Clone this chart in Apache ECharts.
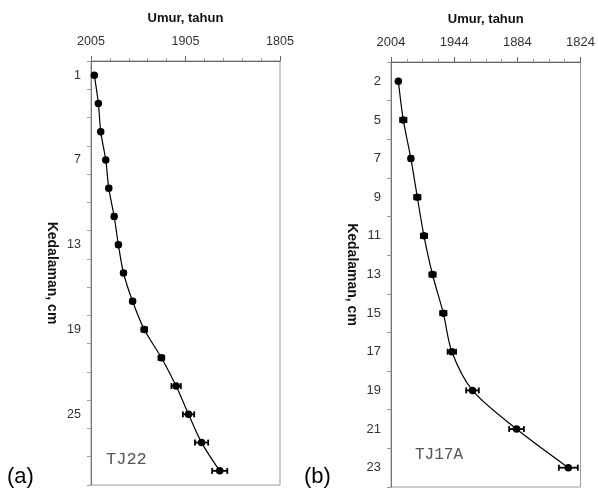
<!DOCTYPE html>
<html>
<head>
<meta charset="utf-8">
<script src="https://cdn.jsdelivr.net/npm/echarts@6/dist/echarts.min.js"></script>
<style>
  html, body { margin: 0; padding: 0; background: #fff; }
  #chart { width: 598px; height: 496px; }
</style>
</head>
<body>
<div id="chart"></div>
<script>
// panel (a) TJ22
var depthA = ['1', '3', '5', '7', '9', '11', '13', '15', '17', '19', '21', '23', '25', '27', '29'];
var yearA = [2001.5, 1997.2, 1994.7, 1989.4, 1986.2, 1980.5, 1976, 1970.6, 1961, 1948.6, 1930.5, 1914.9, 1901.8, 1888, 1868.8];
var errA = [0, 1, 1, 2, 2, 2, 2, 2, 2, 3, 3, 5, 6, 7, 8];
// panel (b) TJ17A
var depthB = ['2', '5', '7', '9', '11', '13', '15', '17', '19', '21', '23'];
var yearB = [1997, 1992.3, 1985.1, 1979, 1972.7, 1964.6, 1954.3, 1946.2, 1926.6, 1884.8, 1835.6];
var errB = [0, 3, 2, 3, 3, 3, 3, 4, 6, 7, 9];

var xName = 'Umur, tahun';
var yName = 'Kedalaman, cm';

window.onload = function () {
  var chart = echarts.init(document.getElementById('chart'));

  function errData(years, errs) {
    var out = [];
    for (var i = 0; i < years.length; i++) {
      out.push([years[i] - errs[i], i, years[i] + errs[i]]);
    }
    return out;
  }

  function renderErr(params, api) {
    var lo = api.coord([api.value(0), api.value(1)]);
    var hi = api.coord([api.value(2), api.value(1)]);
    var h = 3;
    var style = { stroke: '#000', lineWidth: 1.8 };
    return {
      type: 'group',
      children: [
        { type: 'line', shape: { x1: lo[0], y1: lo[1], x2: hi[0], y2: hi[1] }, style: style },
        { type: 'line', shape: { x1: lo[0], y1: lo[1] - h, x2: lo[0], y2: lo[1] + h }, style: style },
        { type: 'line', shape: { x1: hi[0], y1: hi[1] - h, x2: hi[0], y2: hi[1] + h }, style: style }
      ]
    };
  }

  function xAxis(idx, min, max, interval, minorSplit, fontSize) {
    return {
      type: 'value',
      gridIndex: idx,
      position: 'top',
      inverse: true,
      min: min,
      max: max,
      interval: interval,
      name: xName,
      nameLocation: 'middle',
      nameGap: 36,
      nameTextStyle: { fontFamily: 'Liberation Sans', fontWeight: 'bold', fontSize: 13, color: '#111' },
      axisLine: { show: true, lineStyle: { color: '#666', width: 1 } },
      axisTick: { show: true, length: 5, lineStyle: { color: '#666' } },
      minorTick: { show: true, splitNumber: minorSplit, length: 3, lineStyle: { color: '#999' } },
      axisLabel: {
        margin: 13, fontFamily: 'Liberation Sans', fontSize: fontSize, color: '#333',
        formatter: function (v) { return String(v); }
      },
      splitLine: { show: false }
    };
  }

  function yAxis(idx, cats, labelInterval, fontSize) {
    return {
      type: 'category',
      gridIndex: idx,
      inverse: true,
      data: cats,
      name: yName,
      nameLocation: 'middle',
      nameRotate: -90,
      nameGap: 32,
      nameTextStyle: { fontFamily: 'Liberation Sans', fontWeight: 'bold', fontSize: 14, color: '#111' },
      axisLine: { show: true, lineStyle: { color: '#777', width: 1 } },
      axisTick: { show: true, interval: 0, length: 4, lineStyle: { color: '#999' } },
      axisLabel: { interval: labelInterval, margin: 10, fontFamily: 'Liberation Sans', fontSize: fontSize, color: '#333' },
      splitLine: { show: false }
    };
  }

  function lineSeries(idx, years) {
    return {
      type: 'line',
      xAxisIndex: idx,
      yAxisIndex: idx,
      data: years,
      smooth: 0.3,
      symbol: 'circle',
      symbolSize: 7.5,
      itemStyle: { color: '#000' },
      lineStyle: { color: '#000', width: 1.2 },
      z: 3
    };
  }

  function errSeries(idx, years, errs) {
    return {
      type: 'custom',
      xAxisIndex: idx,
      yAxisIndex: idx,
      data: errData(years, errs),
      renderItem: renderErr,
      encode: { x: [0, 2], y: 1 },
      z: 4
    };
  }

  var option = {
    animation: false,
    backgroundColor: '#fff',
    grid: [
      { left: 91, top: 61, width: 189, height: 424, show: true, borderColor: '#999', borderWidth: 1 },
      { left: 391, top: 62, width: 194, height: 425, show: true, borderColor: '#999', borderWidth: 1 }
    ],
    xAxis: [
      xAxis(0, 1805, 2005, 100, 5, 12.5),
      xAxis(1, 1824, 2004, 60, 4, 13)
    ],
    yAxis: [
      yAxis(0, depthA, 2, 12.5),
      yAxis(1, depthB, 0, 13)
    ],
    series: [
      lineSeries(0, yearA),
      errSeries(0, yearA, errA),
      lineSeries(1, yearB),
      errSeries(1, yearB, errB)
    ],
    graphic: [
      { type: 'text', left: 106, top: 451, style: { text: 'TJ22', font: '17px "Liberation Mono"', fill: '#555' } },
      { type: 'text', left: 415, top: 447, style: { text: 'TJ17A', font: '16px "Liberation Mono"', fill: '#555' } },
      { type: 'text', left: 7, top: 466, style: { text: '(a)', font: '22px "Liberation Sans"', fill: '#000' } },
      { type: 'text', left: 304, top: 466, style: { text: '(b)', font: '22px "Liberation Sans"', fill: '#000' } }
    ]
  };

  chart.setOption(option);
};
</script>
</body>
</html>
